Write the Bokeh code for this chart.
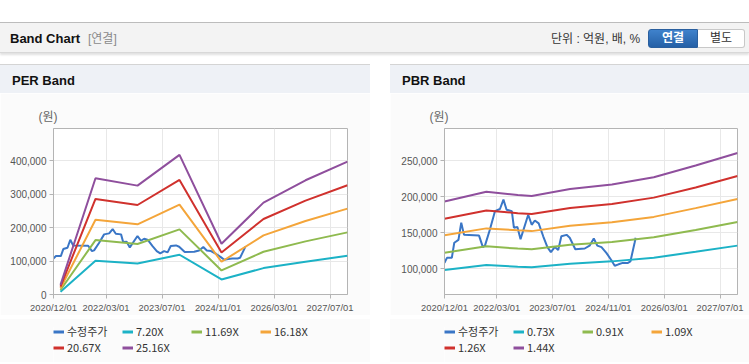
import pandas as pd
from bokeh.plotting import figure
from bokeh.models import (ColumnDataSource, Legend, LegendItem, NumeralTickFormatter,
                          FixedTicker, Range1d, Div, Spacer)
from bokeh.layouts import column, row
from bokeh.core.properties import value
from bokeh.embed import file_html
from bokeh.resources import INLINE

# ---------------- data ----------------
x_start = "2020/12/01"
x_end = "2027/12/01"
tick_labels = ["2020/12/01", "2022/03/01", "2023/07/01", "2024/11/01", "2026/03/01", "2027/07/01"]

price_name = "수정주가"
price_dates = ["2020/12/01", "2020/12/22", "2021/02/04", "2021/02/25", "2021/04/01", "2021/04/25",
               "2021/05/19", "2021/09/28", "2021/11/01", "2021/11/19", "2022/01/01", "2022/02/15",
               "2022/03/28", "2022/04/28", "2022/05/25", "2022/07/10", "2022/07/28", "2022/08/28",
               "2022/09/25", "2022/12/01", "2023/01/01", "2023/01/28", "2023/03/01", "2023/04/10",
               "2023/05/16", "2023/06/16", "2023/07/19", "2023/08/19", "2023/09/16", "2023/11/01",
               "2023/11/28", "2024/01/16", "2024/04/07", "2024/05/19", "2024/06/25", "2024/07/25",
               "2024/09/01", "2024/10/13", "2024/11/25", "2024/12/25", "2025/01/28", "2025/03/04",
               "2025/04/19", "2025/05/10", "2025/06/16", "2025/06/25"]
price_vals = [108000, 115000, 115000, 136000, 140000, 164000,
              147000, 146000, 130000, 132000, 154000, 180000,
              183000, 196000, 182000, 180000, 157000, 158000,
              141000, 175000, 161000, 167000, 163000, 145000,
              130000, 123000, 130000, 126000, 145000, 147000,
              143000, 127000, 128000, 132000, 142000, 132000,
              130000, 122000, 112000, 104000, 106000, 108000,
              108000, 110000, 136000, 143000]

per_dates = ["2021/02/01", "2021/12/01", "2022/12/01", "2023/12/01", "2024/12/01",
             "2025/12/01", "2026/12/01", "2027/12/01"]
per_names = ["7.20X", "11.69X", "16.18X", "20.67X", "25.16X"]
per_720 = [8300, 101000, 93000, 119000, 45000, 79000, 98000, 116000]
per_1169 = [13400, 163000, 151000, 195000, 72000, 128000, 159000, 186000]
per_1618 = [18600, 224000, 210000, 269000, 98000, 177000, 220000, 257000]
per_2067 = [23800, 286000, 268000, 343000, 126000, 226000, 281000, 327000]
per_2516 = [28900, 348000, 326000, 418000, 152000, 275000, 342000, 398000]

pbr_dates = ["2020/12/01", "2021/12/01", "2022/09/01", "2023/01/01", "2023/12/01",
             "2024/12/01", "2025/12/01", "2026/12/01", "2027/12/01"]
pbr_names = ["0.73X", "0.91X", "1.09X", "1.26X", "1.44X"]
pbr_073 = [98000, 105000, 102600, 101900, 106900, 110100, 115200, 123400, 132000]
pbr_091 = [122000, 131000, 127900, 127000, 133200, 137200, 143600, 153800, 164800]
pbr_109 = [146400, 156000, 153300, 152200, 159600, 164400, 172000, 184200, 197000]
pbr_126 = [169300, 181000, 177200, 175900, 184500, 190000, 198800, 212900, 228800]
pbr_144 = [193400, 207000, 202500, 201000, 210800, 217200, 227200, 243400, 261000]

per_yticks = [0, 100000, 200000, 300000, 400000]
per_ymax = 497000
pbr_yticks = [100000, 150000, 200000, 250000]
pbr_ymin, pbr_ymax = 64000, 295000

# ---------------- styles ----------------
price_color = "#3a76c6"
band_colors = ["#1cb2c6", "#8fba4f", "#f4a53a", "#d0312d", "#8f4f9d"]
FONT = "Liberation Sans, Noto Sans CJK KR"
CSSFONT = "font-family:'Liberation Sans','Noto Sans CJK KR',sans-serif;"
PANEL_BG = "#fbfbfb"


def mi(s):
    y, m, d = map(int, s.split("/"))
    return (y - 2020) * 12 + (m - 12) + (d - 1) / 30.0


def make_chart(width, left, right, band_dates, bands, yticks, ymin, ymax):
    p = figure(width=width, height=222, output_backend="svg", toolbar_location=None,
               x_range=Range1d(mi(x_start), mi(x_end)), y_range=Range1d(ymin, ymax),
               min_border_left=left, min_border_right=right, min_border_top=35,
               min_border_bottom=20, margin=0)
    p.background_fill_color = "#ffffff"
    p.border_fill_color = PANEL_BG
    p.outline_line_color = "#b4b4b4"
    p.title.text = "(원)"
    p.title.align = "left"
    p.title.offset = -15
    p.title.text_font_size = "12px"
    p.title.text_font_style = "normal"
    p.title.text_color = "#666666"
    p.title.text_font = FONT

    p.xaxis.ticker = FixedTicker(ticks=[mi(t) for t in tick_labels])
    p.xaxis.major_label_overrides = {mi(t): t for t in tick_labels}
    p.yaxis.ticker = FixedTicker(ticks=yticks)
    p.yaxis.formatter = NumeralTickFormatter(format="0,0")
    for ax in (p.xaxis, p.yaxis):
        ax.axis_line_color = "#b4b4b4"
        ax.major_tick_line_color = "#b4b4b4"
        ax.major_tick_in = 0
        ax.major_tick_out = 4
        ax.minor_tick_line_color = None
        ax.major_label_text_color = "#555555"
        ax.major_label_text_font = FONT
        ax.major_label_standoff = 3
    p.xaxis.major_label_text_font_size = "9.4px"
    p.yaxis.major_label_text_font_size = "10px"
    p.xgrid.ticker = p.xaxis.ticker
    p.ygrid.ticker = p.yaxis.ticker
    p.grid.grid_line_color = "#e8e8e8"

    bx = [mi(d) for d in band_dates]
    src_p = ColumnDataSource(dict(x=[mi(d) for d in price_dates], y=price_vals))
    p.line("x", "y", source=src_p, line_color=price_color, line_width=2)
    for vals, col in zip(bands, band_colors):
        src = ColumnDataSource(dict(x=bx, y=vals))
        p.line("x", "y", source=src, line_color=col, line_width=2)
    return p


def make_legend(width, names):
    # legend-only figure: keys reuse the series colours, their dummy lines lie off-range
    lp = figure(width=width, height=39, output_backend="svg", toolbar_location=None,
                x_range=Range1d(0, 1), y_range=Range1d(0, 1), x_axis_type=None,
                y_axis_type=None, min_border=0, margin=0)
    lp.outline_line_color = None
    lp.background_fill_color = PANEL_BG
    lp.border_fill_color = PANEL_BG
    lp.grid.visible = False
    labels = [price_name] + names
    colors = [price_color] + band_colors
    items = []
    for lab, col in zip(labels, colors):
        r = lp.line(x=[-5, -4], y=[-5, -4], line_color=col, line_width=3)
        items.append(LegendItem(label=lab, renderers=[r]))
    leg = Legend(items=items, location="top_left", orientation="horizontal", ncols=4,
                 padding=0, margin=0, spacing=-4, glyph_width=11, glyph_height=13,
                 label_height=13, label_standoff=3, label_width=55,
                 label_text_font_size="11px", label_text_font="Noto Sans CJK KR",
                 label_text_color="#333333",
                 background_fill_alpha=0, border_line_alpha=0)
    lp.add_layout(leg)
    return lp


header_html = f"""<div style="position:relative;width:749px;height:31px;box-sizing:border-box;background:#f3f3f3;
border-top:1px solid #bcbcbc;border-bottom:1px solid #d8d8d8;box-shadow:0 2px 2px rgba(0,0,0,0.12);{CSSFONT}">
<span style="position:absolute;left:10px;top:7px;font-size:13px;font-weight:bold;color:#111;">Band Chart</span>
<span style="position:absolute;left:88px;top:8px;font-size:12px;color:#8a8a8a;">[연결]</span>
<span style="position:absolute;left:551px;top:8px;font-size:12px;color:#333;">단위 : 억원, 배, %</span>
<span style="position:absolute;left:648px;top:6px;width:50px;height:19px;box-sizing:border-box;
background:linear-gradient(#3f82cc,#2560a6);border:1px solid #2a5f9e;border-radius:3px 0 0 3px;
color:#fff;font-weight:bold;font-size:12px;text-align:center;line-height:17px;">연결</span>
<span style="position:absolute;left:698px;top:6px;width:47px;height:19px;box-sizing:border-box;
background:#fff;border:1px solid #c8c8c8;border-left:none;border-radius:0 3px 3px 0;color:#333;font-size:12px;text-align:center;line-height:17px;">별도</span>
</div>"""


def panel_head(text, w):
    return Div(width=w, height=29, margin=0, text=f"""<div style="position:relative;width:{w}px;height:29px;box-sizing:border-box;background:#eef1f6;
border-top:1px solid #d4d4d4;{CSSFONT}">
<span style="position:absolute;left:12px;top:7px;font-size:13px;font-weight:bold;color:#111;">{text}</span>
</div>""")


def fill(w, h):
    return Div(width=w, height=h, margin=0,
               text=f'<div style="width:{w}px;height:{h}px;background:{PANEL_BG};"></div>')


def panel_foot(w):
    return Div(width=w, height=2, margin=0,
               text=f'<div style="width:{w}px;height:2px;box-sizing:border-box;border-top:1px solid #d0d0d0;"></div>')


def legend_block(w, x0, names):
    return column(fill(w, 8),
                  row(fill(x0, 39), make_legend(w - x0, names), spacing=0, margin=0),
                  spacing=0, margin=0)


per = make_chart(370, 53, 23, per_dates, [per_720, per_1169, per_1618, per_2067, per_2516],
                 per_yticks, 0, per_ymax)
pbr = make_chart(359, 54, 12, pbr_dates, [pbr_073, pbr_091, pbr_109, pbr_126, pbr_144],
                 pbr_yticks, pbr_ymin, pbr_ymax)

layout = column(
    Spacer(width=749, height=22, margin=0),
    Div(width=749, height=31, margin=0, text=header_html),
    Spacer(width=749, height=11, margin=0),
    row(column(panel_head("PER Band", 370), per, legend_block(370, 53, per_names),
               panel_foot(370), spacing=0, margin=0),
        Spacer(width=20, height=300, margin=0),
        column(panel_head("PBR Band", 359), pbr, legend_block(359, 54, pbr_names),
               panel_foot(359), spacing=0, margin=0),
        spacing=0, margin=0),
    spacing=0, margin=0,
)

open("out.html", "w").write(file_html(layout, INLINE))
